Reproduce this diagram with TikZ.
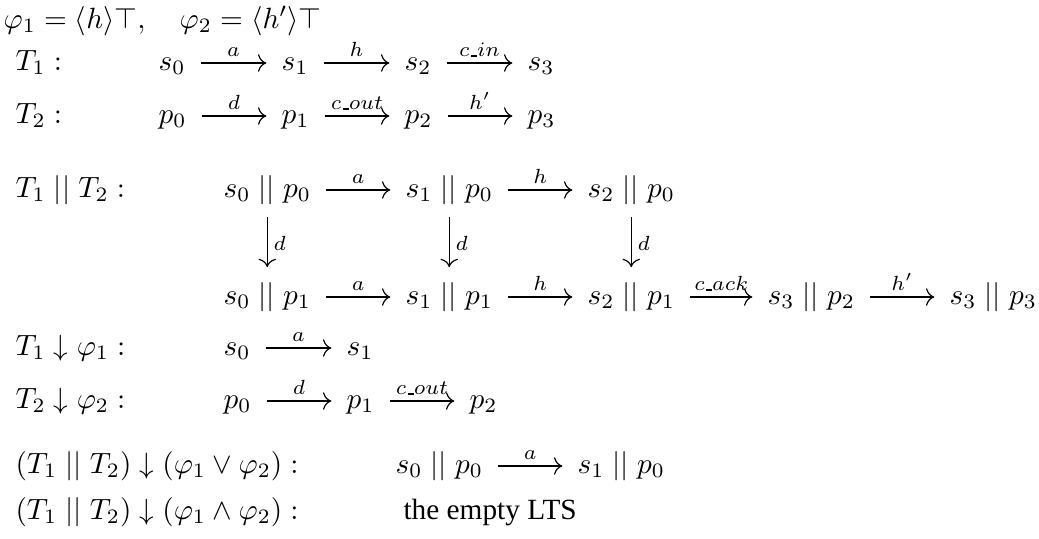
\documentclass[tikz,border=0pt]{standalone}
\usepackage[no-math]{fontspec}
\usetikzlibrary{arrows.meta}
\newfontfamily\ltsfont{Liberation Serif}
\newcommand{\para}{\mathrel{||}}
\newcommand{\us}{\mbox{\kern.06em\vbox{\hrule width .3em}}}
\begin{document}
\begin{tikzpicture}[x=0.3413pt, y=-0.3413pt,
  >={Computer Modern Rightarrow[scale=1.15]},
  st/.style={anchor=west, inner sep=0pt, text height=7pt, text depth=2pt},
  tr/.style={->, shorten <=5pt, shorten >=5pt},
  lab/.style={font=\scriptsize, text depth=0pt, inner sep=2pt}]
  \useasboundingbox (0,0) rectangle (1039,539);
  % formulas
  \node[st] (phi) at (3,21) {$\varphi_1 = \langle h\rangle\top, \quad \varphi_2 = \langle h'\rangle\top$};
  % row labels
  \foreach \n/\y/\t in {l1/63/{T_1 :}, l2/116/{T_2 :}, l3/190/{T_1 \para T_2 :},
      l4/348/{T_1 \downarrow \varphi_1 :}, l5/401/{T_2 \downarrow \varphi_2 :},
      l6/466/{(T_1 \para T_2) \downarrow (\varphi_1 \vee \varphi_2) :},
      l7/512/{(T_1 \para T_2) \downarrow (\varphi_1 \wedge \varphi_2) :}}
    \node[st] (\n) at (15,\y) {$\t$};
  % T1 and T2
  \foreach \n/\x/\t in {s0/158/s_0, s1/281/s_1, s2/404/s_2, s3/527/s_3}
    \node[st] (\n) at (\x,63) {$\t$};
  \foreach \n/\x/\t in {p0/158/p_0, p1/281/p_1, p2/404/p_2, p3/527/p_3}
    \node[st] (\n) at (\x,116) {$\t$};
  \foreach \a/\b/\l in {s0/s1/a, s1/s2/h, s2/s3/c\us in, p0/p1/d, p1/p2/c\us out, p2/p3/h'}
    \draw[tr] (\a) -- node[lab, above] {$\l$} (\b);
  % parallel composition
  \foreach \n/\x/\t in {s0p0/223/{s_0 \para p_0}, s1p0/405/{s_1 \para p_0}, s2p0/587/{s_2 \para p_0}}
    \node[st] (\n) at (\x,190) {$\t$};
  \foreach \n/\x/\t in {s0p1/223/{s_0 \para p_1}, s1p1/405/{s_1 \para p_1}, s2p1/587/{s_2 \para p_1},
      s3p2/767/{s_3 \para p_2}, s3p3/949/{s_3 \para p_3}}
    \node[st] (\n) at (\x,297) {$\t$};
  \foreach \a/\b/\l in {s0p0/s1p0/a, s1p0/s2p0/h, s0p1/s1p1/a, s1p1/s2p1/h, s2p1/s3p2/c\us ack, s3p2/s3p3/h'}
    \draw[tr] (\a) -- node[lab, above] {$\l$} (\b);
  \foreach \c in {0,1,2}
    \draw[->, shorten <=4.5pt, shorten >=5.5pt] (s\c p0) -- node[lab, right] {$d$} (s\c p1);
  % restrictions
  \node[st] (rs0) at (223,348) {$s_0$};
  \node[st] (rs1) at (346,348) {$s_1$};
  \draw[tr] (rs0) -- node[lab, above] {$a$} (rs1);
  \foreach \n/\x/\t in {rp0/223/p_0, rp1/346/p_1, rp2/469/p_2}
    \node[st] (\n) at (\x,401) {$\t$};
  \draw[tr] (rp0) -- node[lab, above] {$d$} (rp1);
  \draw[tr] (rp1) -- node[lab, above] {$c\us out$} (rp2);
  \node[st] (os0p0) at (395,466) {$s_0 \para p_0$};
  \node[st] (os1p0) at (577,466) {$s_1 \para p_0$};
  \draw[tr] (os0p0) -- node[lab, above] {$a$} (os1p0);
  \node[st, font=\ltsfont] (empty) at (403,512) {the empty LTS};
\end{tikzpicture}
\end{document}
